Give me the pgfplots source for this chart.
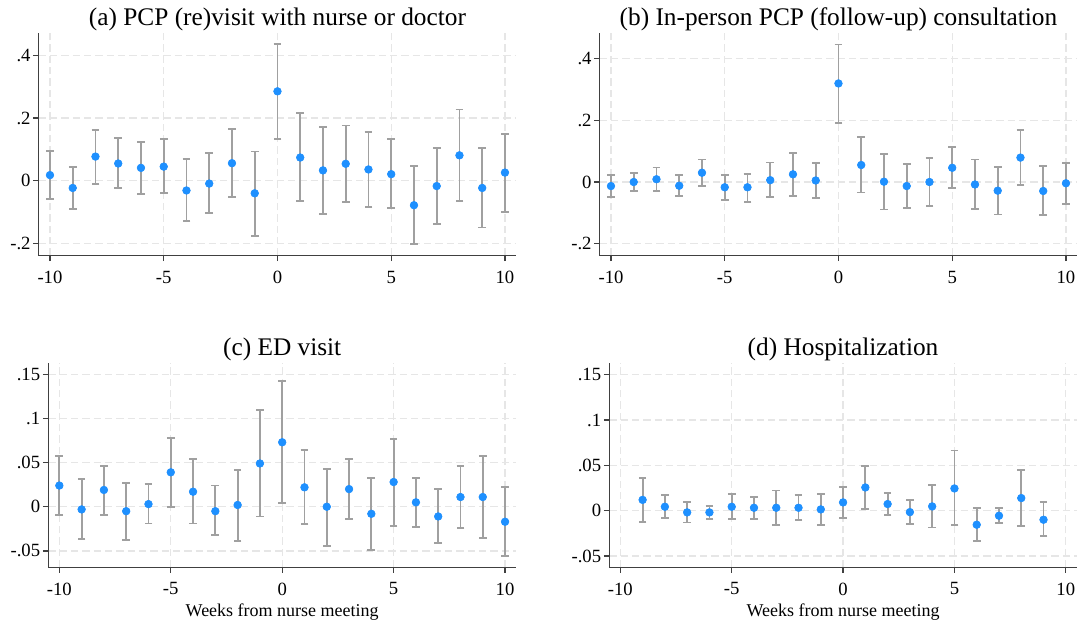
\documentclass[border=0pt]{standalone}
\usepackage{fontspec}
\setmainfont{Liberation Serif}
\usepackage{pgfplots}
\usepackage{pgfplotstable}
\pgfplotsset{compat=1.18}
\definecolor{dotblue}{RGB}{30,144,255}
\definecolor{errgray}{RGB}{160,160,160}
\definecolor{gridgray}{RGB}{230,230,230}
\definecolor{axgray}{RGB}{64,64,64}

\pgfplotstableread{
x y lo hi
-10 0.018 -0.059 0.096
-9 -0.023 -0.090 0.045
-8 0.077 -0.009 0.163
-7 0.055 -0.024 0.136
-6 0.041 -0.041 0.124
-5 0.045 -0.040 0.132
-4 -0.031 -0.129 0.070
-3 -0.009 -0.104 0.088
-2 0.056 -0.052 0.166
-1 -0.040 -0.176 0.093
0 0.285 0.134 0.435
1 0.074 -0.065 0.216
2 0.033 -0.105 0.172
3 0.054 -0.067 0.176
4 0.036 -0.083 0.156
5 0.021 -0.088 0.133
6 -0.078 -0.202 0.047
7 -0.017 -0.139 0.105
8 0.081 -0.064 0.227
9 -0.023 -0.149 0.103
10 0.026 -0.099 0.149
}\tabA

\pgfplotstableread{
x y lo hi
-10 -0.013 -0.049 0.023
-9 0.000 -0.030 0.030
-8 0.009 -0.030 0.047
-7 -0.012 -0.046 0.022
-6 0.030 -0.012 0.073
-5 -0.017 -0.058 0.024
-4 -0.017 -0.064 0.027
-3 0.006 -0.049 0.063
-2 0.025 -0.044 0.093
-1 0.005 -0.051 0.061
0 0.319 0.192 0.445
1 0.055 -0.034 0.145
2 0.001 -0.089 0.092
3 -0.013 -0.084 0.059
4 0.000 -0.078 0.079
5 0.046 -0.018 0.112
6 -0.008 -0.088 0.073
7 -0.028 -0.105 0.050
8 0.079 -0.009 0.168
9 -0.029 -0.108 0.051
10 -0.004 -0.072 0.062
}\tabB

\pgfplotstableread{
x y lo hi
-10 0.024 -0.009 0.057
-9 -0.003 -0.037 0.031
-8 0.019 -0.009 0.046
-7 -0.005 -0.038 0.027
-6 0.003 -0.019 0.026
-5 0.039 0.000 0.078
-4 0.017 -0.019 0.054
-3 -0.005 -0.032 0.024
-2 0.002 -0.039 0.042
-1 0.049 -0.011 0.110
0 0.073 0.004 0.142
1 0.022 -0.020 0.064
2 0.000 -0.044 0.043
3 0.020 -0.014 0.054
4 -0.008 -0.049 0.033
5 0.028 -0.022 0.077
6 0.005 -0.023 0.033
7 -0.011 -0.041 0.020
8 0.011 -0.024 0.046
9 0.011 -0.035 0.057
10 -0.017 -0.056 0.022
}\tabC

\pgfplotstableread{
x y lo hi
-9 0.0120 -0.0125 0.0360
-8 0.0044 -0.0080 0.0170
-7 -0.0018 -0.0130 0.0100
-6 -0.0018 -0.0088 0.0055
-5 0.0044 -0.0088 0.0188
-4 0.0033 -0.0088 0.0154
-3 0.0033 -0.0154 0.0224
-2 0.0033 -0.0103 0.0170
-1 0.0015 -0.0154 0.0188
0 0.0092 -0.0080 0.0265
1 0.0257 0.0022 0.0496
2 0.0074 -0.0050 0.0200
3 -0.0015 -0.0143 0.0114
4 0.0048 -0.0184 0.0283
5 0.0246 -0.0154 0.0665
6 -0.0154 -0.0330 0.0026
7 -0.0055 -0.0132 0.0026
8 0.0140 -0.0165 0.0452
9 -0.0099 -0.0280 0.0096
}\tabD

\pgfplotsset{
  panel/.style={
    scale only axis,
    clip=false,
    axis x line=bottom, axis y line=left,
    axis line style={draw=axgray, line width=0.9pt, -},
    xmin=-10.5, xmax=10.5,
    xtick={-10,-5,0,5,10},
    xticklabels={-10,-5,0,5,10},
    tick style={draw=axgray, line width=0.9pt},
    tick align=outside,
    major tick length=4pt,
    grid=major,
    major grid style={draw=gridgray, line width=1pt, dash pattern=on 5.5pt off 3pt},
    ticklabel style={font=\fontsize{14}{16}\selectfont},
    xticklabel style={yshift=-4pt},
    yticklabel style={xshift=1.5pt},
    every axis title shift=0pt,
    title style={at={(0.5,1)}, anchor=base, yshift=5.3pt, font=\fontsize{19}{22}\selectfont},
    xlabel style={font=\fontsize{13.5}{16}\selectfont, at={(axis description cs:0.5,0)}, anchor=base, yshift=-37pt},
  },
  errs/.style={color=errgray, line width=1.4pt, only marks, mark=none, forget plot,
    error bars/.cd, y dir=both, y explicit,
    error bar style={color=errgray, line width=1.4pt},
    error mark options={rotate=90, color=errgray, line width=1.4pt, mark size=2.9pt}},
  dots/.style={only marks, mark=*, mark size=2.9pt,
    mark options={draw=dotblue, fill=dotblue}},
}

\begin{document}
\begin{tikzpicture}
\useasboundingbox (0,0) rectangle (808.5pt,471pt);

% (a)
\begin{axis}[panel, at={(28.95pt,279.2pt)}, anchor=south west,
  width=358.3pt, height=167pt,
  ymin=-0.239, ymax=0.4707,
  ytick={-0.2,0,0.2,0.4}, yticklabels={-.2,0,.2,.4},
  title={(a) PCP (re)visit with nurse or doctor}]
\addplot[errs] table[x=x, y=y, y error plus expr=\thisrow{hi}-\thisrow{y}, y error minus expr=\thisrow{y}-\thisrow{lo}] {\tabA};
\addplot[dots] table[x=x, y=y] {\tabA};
\end{axis}

% (b)
\begin{axis}[panel, at={(449.7pt,279.2pt)}, anchor=south west,
  width=358.3pt, height=167pt,
  ymin=-0.2385, ymax=0.482,
  ytick={-0.2,0,0.2,0.4}, yticklabels={-.2,0,.2,.4},
  title={(b) In-person PCP (follow-up) consultation}]
\addplot[errs] table[x=x, y=y, y error plus expr=\thisrow{hi}-\thisrow{y}, y error minus expr=\thisrow{y}-\thisrow{lo}] {\tabB};
\addplot[dots] table[x=x, y=y] {\tabB};
\end{axis}

% (c)
\begin{axis}[panel, at={(36.15pt,45.5pt)}, anchor=south west,
  width=351pt, height=153.2pt,
  ymin=-0.0686, ymax=0.1627,
  ytick={-0.05,0,0.05,0.1,0.15}, yticklabels={-.05,0,.05,.1,.15},
  title={(c) ED visit},
  xlabel={Weeks from nurse meeting}]
\addplot[errs] table[x=x, y=y, y error plus expr=\thisrow{hi}-\thisrow{y}, y error minus expr=\thisrow{y}-\thisrow{lo}] {\tabC};
\addplot[dots] table[x=x, y=y] {\tabC};
\end{axis}

% (d)
\begin{axis}[panel, at={(456.9pt,45.5pt)}, anchor=south west,
  width=350.8pt, height=153.2pt,
  ymin=-0.0624, ymax=0.1629,
  ytick={-0.05,0,0.05,0.1,0.15}, yticklabels={-.05,0,.05,.1,.15},
  title={(d) Hospitalization},
  xlabel={Weeks from nurse meeting}]
\addplot[errs] table[x=x, y=y, y error plus expr=\thisrow{hi}-\thisrow{y}, y error minus expr=\thisrow{y}-\thisrow{lo}] {\tabD};
\addplot[dots] table[x=x, y=y] {\tabD};
\end{axis}
\end{tikzpicture}
\end{document}
